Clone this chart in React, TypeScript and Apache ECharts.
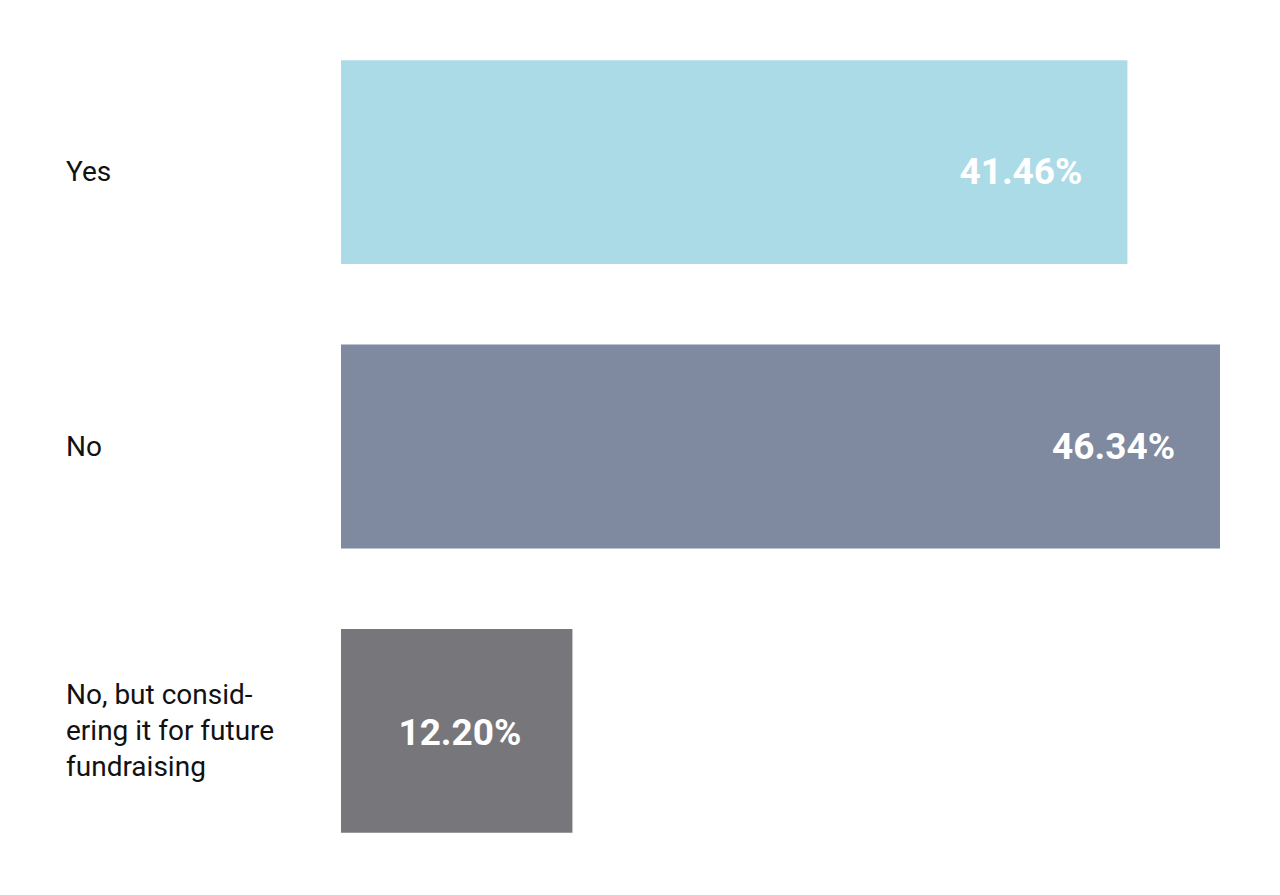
import React, { useEffect, useRef } from "react";
import * as echarts from "echarts";

const categories = ["Yes", "No", "No, but consid-\nering it for future\nfundraising"];
const values = [41.46, 46.34, 12.2];
const colors = ["#acdbe8", "#7f899f", "#77777b"];

export default function App() {
  const ref = useRef<HTMLDivElement>(null);
  useEffect(() => {
    if (!ref.current) return;
    const chart = echarts.init(ref.current, null, { renderer: "svg" });
    chart.setOption({
      animation: false,
      backgroundColor: "#ffffff",
      grid: { left: 341, right: 60, top: 20, bottom: 22, containLabel: false, outerBoundsMode: "none" },
      xAxis: {
        type: "value",
        min: 0,
        max: 46.34,
        show: false,
      },
      yAxis: {
        type: "category",
        inverse: true,
        data: categories,
        axisLine: { show: false },
        axisTick: { show: false },
        axisLabel: {
          align: "left",
          margin: 275,
          color: "#111111",
          fontFamily: "Roboto",
          fontSize: 28,
          lineHeight: 36,
          formatter: (v: string, i: number) => (i === 0 ? "{a|" + v + "}" : v),
          rich: {
            a: {
              padding: [18, 0, 0, 0],
              color: "#111111",
              fontFamily: "Roboto",
              fontSize: 28,
              lineHeight: 36,
            },
          },
        },
      },
      series: [
        {
          type: "bar",
          barCategoryGap: "28.3%",
          data: values.map((v, i) => ({
            value: v,
            itemStyle: { color: colors[i] },
            label: i === 0 ? { offset: [0, 9] } : i === 2 ? { distance: 51, offset: [0, 2] } : {},
          })),
          label: {
            show: true,
            position: "insideRight",
            distance: 45,
            color: "#ffffff",
            fontFamily: "Roboto",
            fontWeight: "bold",
            fontSize: 37,
            formatter: (p: any) => p.value.toFixed(2) + "%",
          },
        },
      ],
    });
    return () => chart.dispose();
  }, []);
  return (
    <div
      ref={ref}
      style={{ position: "absolute", left: 0, top: 0, width: 1280, height: 895 }}
    />
  );
}
